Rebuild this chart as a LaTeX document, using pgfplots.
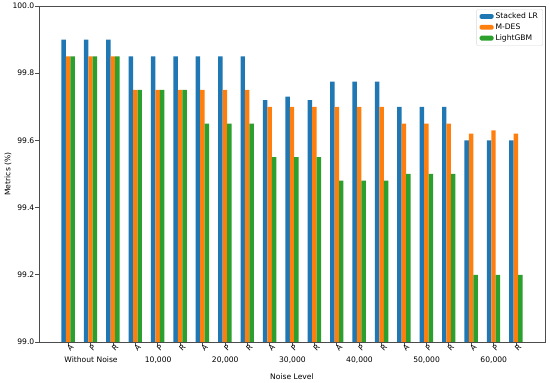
\documentclass[border=0pt]{standalone}
\usepackage{fontspec}
\setmainfont{DejaVu Sans}
\usepackage{pgfplots}
\pgfplotsset{compat=1.18}
\usepackage{pgfplotstable}
\definecolor{tabblue}{HTML}{1F77B4}
\definecolor{taborange}{HTML}{FF7F0E}
\definecolor{tabgreen}{HTML}{2CA02C}
\pgfplotstableread{
x slr mdes lgbm
0 99.90 99.85 99.85
1 99.90 99.85 99.85
2 99.90 99.85 99.85
3 99.85 99.75 99.75
4 99.85 99.75 99.75
5 99.85 99.75 99.75
6 99.85 99.75 99.65
7 99.85 99.75 99.65
8 99.85 99.75 99.65
9 99.72 99.70 99.55
10 99.73 99.70 99.55
11 99.72 99.70 99.55
12 99.775 99.70 99.48
13 99.775 99.70 99.48
14 99.775 99.70 99.48
15 99.70 99.65 99.50
16 99.70 99.65 99.50
17 99.70 99.65 99.50
18 99.60 99.62 99.20
19 99.60 99.63 99.20
20 99.60 99.62 99.20
}\data
\newcommand{\fs}{\fontsize{7.6bp}{9bp}\selectfont}
\begin{document}
\fs
\begin{tikzpicture}
\begin{axis}[
  scale only axis,
  width=506bp, height=336bp,
  at={(0,0)}, anchor=south west,
  xmin=-1.3, xmax=21.3,
  ymin=99, ymax=100,
  ytick={99,99.2,99.4,99.6,99.8,100},
  yticklabel style={/pgf/number format/fixed,/pgf/number format/fixed zerofill,/pgf/number format/precision=1,/pgf/number format/assume math mode=true},
  yticklabel style={font=\fs, inner sep=1bp},
  xtick={0,...,20},
  xticklabels={A,P,R,A,P,R,A,P,R,A,P,R,A,P,R,A,P,R,A,P,R},
  xticklabel style={font=\fs, rotate=45, anchor=center, yshift=-3bp},
  tick align=outside, xtick pos=bottom, ytick pos=left,
  major tick length=3.5bp,
  tick style={black!70, line width=0.6bp},
  axis line style={black!70, line width=0.8bp},
  ylabel={Metrics (\%)},
  ylabel style={font=\fs},
  every axis y label/.style={at={(rel axis cs:0,0.5)}, xshift=-31bp, rotate=90, anchor=center},
  xlabel={Noise Level},
  every axis x label/.style={at={(rel axis cs:0.5,0)}, yshift=-35bp, anchor=center, font=\fs},
  ybar, bar width=0.2,
  legend style={at={(0.996,0.991)}, anchor=north east, draw=black!15, rounded corners=1.5bp,
    font=\fontsize{7.6bp}{11.7bp}\selectfont, inner xsep=3bp, inner ysep=2bp, row sep=0bp,
    cells={anchor=west}},
  legend image code/.code={\fill[#1] (0bp,-2.2bp) rectangle (14bp,2.6bp);},
  clip=true,
]
\addplot[fill=tabblue, draw=none, bar shift=-0.2] table[x=x, y=slr] {\data};
\addplot[fill=taborange, draw=none, bar shift=0] table[x=x, y=mdes] {\data};
\addplot[fill=tabgreen, draw=none, bar shift=0.2] table[x=x, y=lgbm] {\data};
\legend{Stacked LR, M-DES, LightGBM}
\end{axis}
\begin{scope}[font=\fs]
\foreach \g/\lab in {0/Without Noise,1/{10,000},2/{20,000},3/{30,000},4/{40,000},5/{50,000},6/{60,000}} {
  \pgfmathsetmacro{\px}{(29.7bp + (3*\g+1)*22.37bp)}
  \node[anchor=center] at (\px pt,-18bp) {\lab};
}
\end{scope}
\pgfresetboundingbox
\path (-39bp,-41bp) rectangle (511bp,342bp);
\end{tikzpicture}
\end{document}
